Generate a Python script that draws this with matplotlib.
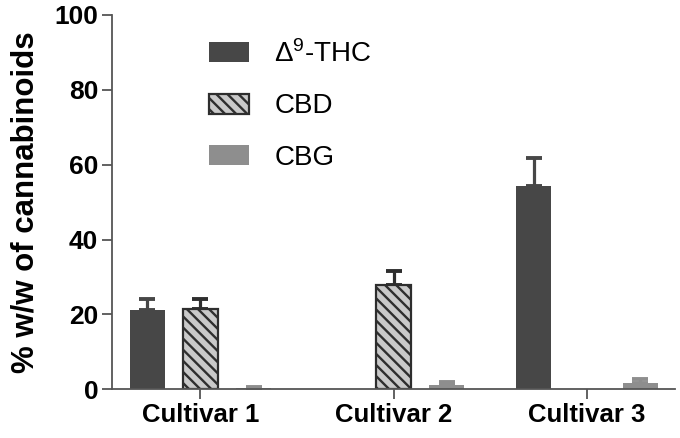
import numpy as np
import matplotlib
matplotlib.use("Agg")
import matplotlib.pyplot as plt

plt.rcParams['font.family'] = ['Liberation Sans', 'DejaVu Sans']
plt.rcParams['hatch.linewidth'] = 1.7

cultivars = ["Cultivar 1", "Cultivar 2", "Cultivar 3"]
thc = [21.2, 0.0, 54.4]
thc_err = [3.0, 0.0, 7.5]
cbd = [21.5, 28.0, 0.0]
cbd_err = [2.7, 3.7, 0.0]
cbg = [0.3, 1.1, 1.8]
cbg_err = [0.3, 0.8, 1.0]

fig = plt.figure(figsize=(6.8, 4.38), dpi=100)
ax = fig.add_axes([0.165, 0.111, 0.828, 0.855])

x = np.arange(len(cultivars))
w = 0.18
off = 0.275
spine_col = "#555555"

def draw(xpos, vals, errs, **kw):
    ecol = kw.pop("ecolor")
    bars = ax.bar(xpos, vals, w, zorder=2, **kw)
    for b, v in zip(bars, vals):
        if v == 0:
            b.set_visible(False)
    lo = np.zeros(len(errs))
    mask = np.array(vals) > 0
    ax.errorbar(np.array(xpos)[mask], np.array(vals)[mask],
                yerr=[lo[mask], np.array(errs)[mask]], fmt="none",
                ecolor=ecol, elinewidth=2.3, capsize=6, capthick=2.8, zorder=1)
    return bars

b1 = draw(x - off, thc, thc_err, color="#474747", ecolor="#474747",
          label=r"$\mathregular{\Delta^9}$-THC")
b2 = draw(x, cbd, cbd_err, facecolor="#c9c9c9", edgecolor="#2e2e2e",
          hatch="\\\\\\", linewidth=1.6, ecolor="#2e2e2e", label="CBD")
b3 = draw(x + off, cbg, cbg_err, color="#8e8e8e", ecolor="#8e8e8e", label="CBG")

ax.set_xlim(-0.456, 2.456)
ax.set_ylim(0, 100)
ax.set_yticks([0, 20, 40, 60, 80, 100])
ax.set_xticks(x)
ax.set_xticklabels(cultivars, fontsize=18.5, fontweight="bold")
for lab in ax.get_yticklabels():
    lab.set_fontsize(19)
    lab.set_fontweight("bold")
ax.set_ylabel("% w/w of cannabinoids", fontsize=22.5, fontweight="bold", labelpad=10)

for s in ["top", "right"]:
    ax.spines[s].set_visible(False)
for s in ["left", "bottom"]:
    ax.spines[s].set_color(spine_col)
    ax.spines[s].set_linewidth(1.3)
ax.tick_params(axis="both", colors=spine_col, length=7, width=1.3, labelcolor="black")
ax.tick_params(axis="x", pad=3)
ax.tick_params(axis="y", pad=3)

leg = ax.legend(handles=[b1, b2, b3], loc="upper left",
                bbox_to_anchor=(0.147, 0.97), frameon=False, fontsize=20,
                handlelength=1.45, handleheight=0.72, handletextpad=0.9,
                labelspacing=0.92, borderpad=0)

fig.savefig("out.png", dpi=100)
